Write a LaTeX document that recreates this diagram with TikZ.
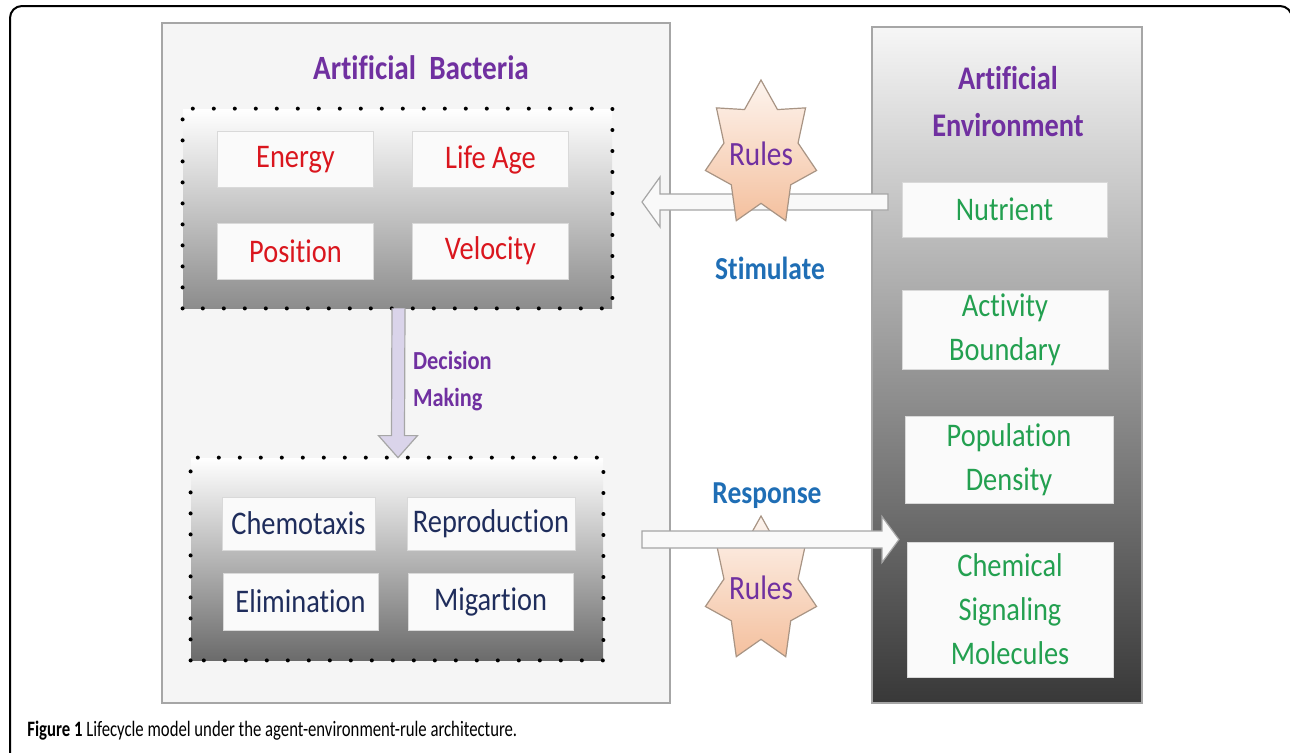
\documentclass[tikz,border=0pt]{standalone}
\usepackage{fontspec}
\setmainfont{Carlito}[FakeStretch=0.86, Ligatures=NoCommon]
\newfontfamily\capfont{Carlito}[FakeStretch=0.76, Ligatures=NoCommon]
\usetikzlibrary{shapes.geometric,calc,fit}
\definecolor{ttl}{HTML}{7030A0}
\definecolor{redt}{HTML}{DA161E}
\definecolor{navy}{HTML}{1F2D5C}
\definecolor{grn}{HTML}{23A050}
\definecolor{blu}{HTML}{1F6EB5}
\definecolor{starbd}{HTML}{A89484}
\definecolor{startop}{HTML}{FDF4EE}
\definecolor{starbot}{HTML}{F4C09E}
\definecolor{lav}{HTML}{DAD4EA}
\tikzset{
  panel/.style={inner sep=0pt, draw=gray!70, line width=0.6pt},
  dotbox/.style={inner sep=0pt, draw=black, line width=2pt, line cap=round, dash pattern=on 0pt off 10.5pt},
  ibox/.style={draw=gray!30, line width=0.4pt, fill=white!96!gray, inner sep=0pt, align=center},
  boxtxt/.style={font=\fontsize{16.5}{22}\selectfont},
  starst/.style={draw=starbd, line width=0.6pt, top color=startop, bottom color=starbot},
  ruletxt/.style={text=ttl, font=\fontsize{17}{20}\selectfont, inner sep=0pt},
  blockarr/.style={draw=gray!70, line width=0.6pt, fill=white!95!gray},
}
% seven-pointed star, stretched vertically, around a named point
\newcommand\starat[1]{%
  \draw[starst] ($(#1)+(0,-74)$)
    \foreach \k in {1,...,13}{ -- ($(#1)+({57*(1-mod(\k,2)/3)*cos(90+\k*360/14)},{-74*(1-mod(\k,2)/3)*sin(90+\k*360/14)})$) }
    -- cycle;}
\begin{document}
\begin{tikzpicture}[x=0.5pt,y=-0.5pt]
\useasboundingbox (0,0) rectangle (1290,752);
\fill[white] (0,0) rectangle (1290,752);
% outer frame
\draw[line width=1pt, rounded corners=6pt] (10,770) -- (10,6) -- (1292,6) -- (1292,770);

% left panel
\node[panel, fill=gray!8, fit={(162,23) (670,703)}] (bact) {};
\node[text=ttl, font=\bfseries\fontsize{17}{20}\selectfont] (bacttitle) at (421,68) {Artificial\ \ Bacteria};

% upper dotted box
\node[inner sep=0pt, top color=white, bottom color=black!45, fit={(183,109) (612,308)}] (upper) {};
\draw[dotbox] (upper.south west) rectangle (upper.north east);
\node[ibox, minimum width=78pt, minimum height=28pt, text=redt, boxtxt] (energy) at (295.5,159.5) {Energy};
\node[ibox, minimum width=78pt, minimum height=28pt, text=redt, boxtxt] (lifeage) at (490.5,159.5) {Life Age};
\node[ibox, minimum width=78pt, minimum height=28pt, text=redt, boxtxt] (position) at (295.5,251) {Position};
\node[ibox, minimum width=78pt, minimum height=28pt, text=redt, boxtxt] (velocity) at (490.5,251) {Velocity};

% lower dotted box
\node[inner sep=0pt, top color=white, bottom color=black!58, fit={(191,458) (603,660)}] (lower) {};
\draw[dotbox] (lower.south west) rectangle (lower.north east);
\node[ibox, minimum width=76.5pt, minimum height=26.5pt, text=navy, boxtxt] (chemo) at (298.5,523.5) {Chemotaxis};
\node[ibox, minimum width=84pt, minimum height=26.5pt, text=navy, boxtxt] (repro) at (491,523.5) {Reproduction};
\node[ibox, minimum width=77.5pt, minimum height=28.5pt, text=navy, boxtxt] (elim) at (300.5,601.5) {Elimination};
\node[ibox, minimum width=82.5pt, minimum height=28.5pt, text=navy, boxtxt] (migr) at (490.5,601.5) {Migartion};

% decision arrow
\coordinate (dA) at ($(upper.south)+(1,0)$);
\coordinate (dB) at ($(lower.north)+(1,0)$);
\draw[blockarr, fill=lav] ($(dA)+(-6.5,0)$) -- ($(dB)+(-6.5,-22)$) -- ($(dB)+(-19.5,-22)$) -- (dB)
   -- ($(dB)+(19.5,-22)$) -- ($(dB)+(6.5,-22)$) -- ($(dA)+(6.5,0)$);
\node[text=ttl, font=\bfseries\fontsize{13}{18.5}\selectfont, align=left, anchor=west] (decision) at (406,381) {Decision\\Making};

% right panel
\node[panel, top color=gray!7, bottom color=black!78, fit={(872,27) (1142,703)}] (env) {};
\node[text=ttl, font=\bfseries\fontsize{16.5}{23.5}\selectfont, align=center] (envtitle) at (1008,102) {Artificial\\Environment};
\node[ibox, minimum width=102.5pt, minimum height=27.5pt, text=grn, boxtxt] (nutrient) at (1004.5,209.5) {Nutrient};
\node[ibox, minimum width=103pt, minimum height=39.5pt, text=grn, boxtxt] (activity) at (1005,329.5) {Activity\\Boundary};
\node[ibox, minimum width=104pt, minimum height=43.5pt, text=grn, boxtxt] (popul) at (1009,459.5) {Population\\Density};
\node[ibox, minimum width=103pt, minimum height=67.5pt, text=grn, boxtxt] (chem) at (1010,609.5) {Chemical\\Signaling\\Molecules};

% stimulate arrow (env -> bacteria)
\coordinate (sS) at (888,202);
\coordinate (sE) at (642,202);
\draw[blockarr] ($(sS)+(0,-8)$) -- ($(sE)+(18,-8)$) -- ($(sE)+(18,-25)$) -- (sE) -- ($(sE)+(18,25)$)
   -- ($(sE)+(18,8)$) -- ($(sS)+(0,8)$) -- cycle;
\coordinate (star1) at (761,154);
\starat{star1}
\node[ruletxt] (rules1) at (star1) {Rules};
\node[text=blu, font=\bfseries\fontsize{16}{20}\selectfont] (stim) at (770,268) {Stimulate};

% response arrow (bacteria -> env)
\coordinate (star2) at (761,590);
\starat{star2}
\node[ruletxt] (rules2) at (761,588) {Rules};
\coordinate (rS) at (642,539.5);
\coordinate (rE) at (899,539.5);
\draw[blockarr] ($(rS)+(0,-8.5)$) -- ($(rE)+(-17,-8.5)$) -- ($(rE)+(-17,-23)$) -- (rE) -- ($(rE)+(-17,23)$)
   -- ($(rE)+(-17,8.5)$) -- ($(rS)+(0,8.5)$) -- cycle;
\node[text=blu, font=\bfseries\fontsize{16}{20}\selectfont] (resp) at (767,496) {Response};

% caption
\node[anchor=west, inner sep=0pt, font=\capfont\fontsize{11}{13}\selectfont] (caption) at (27,731)
  {\textbf{Figure 1} Lifecycle model under the agent-environment-rule architecture.};
\end{tikzpicture}
\end{document}
